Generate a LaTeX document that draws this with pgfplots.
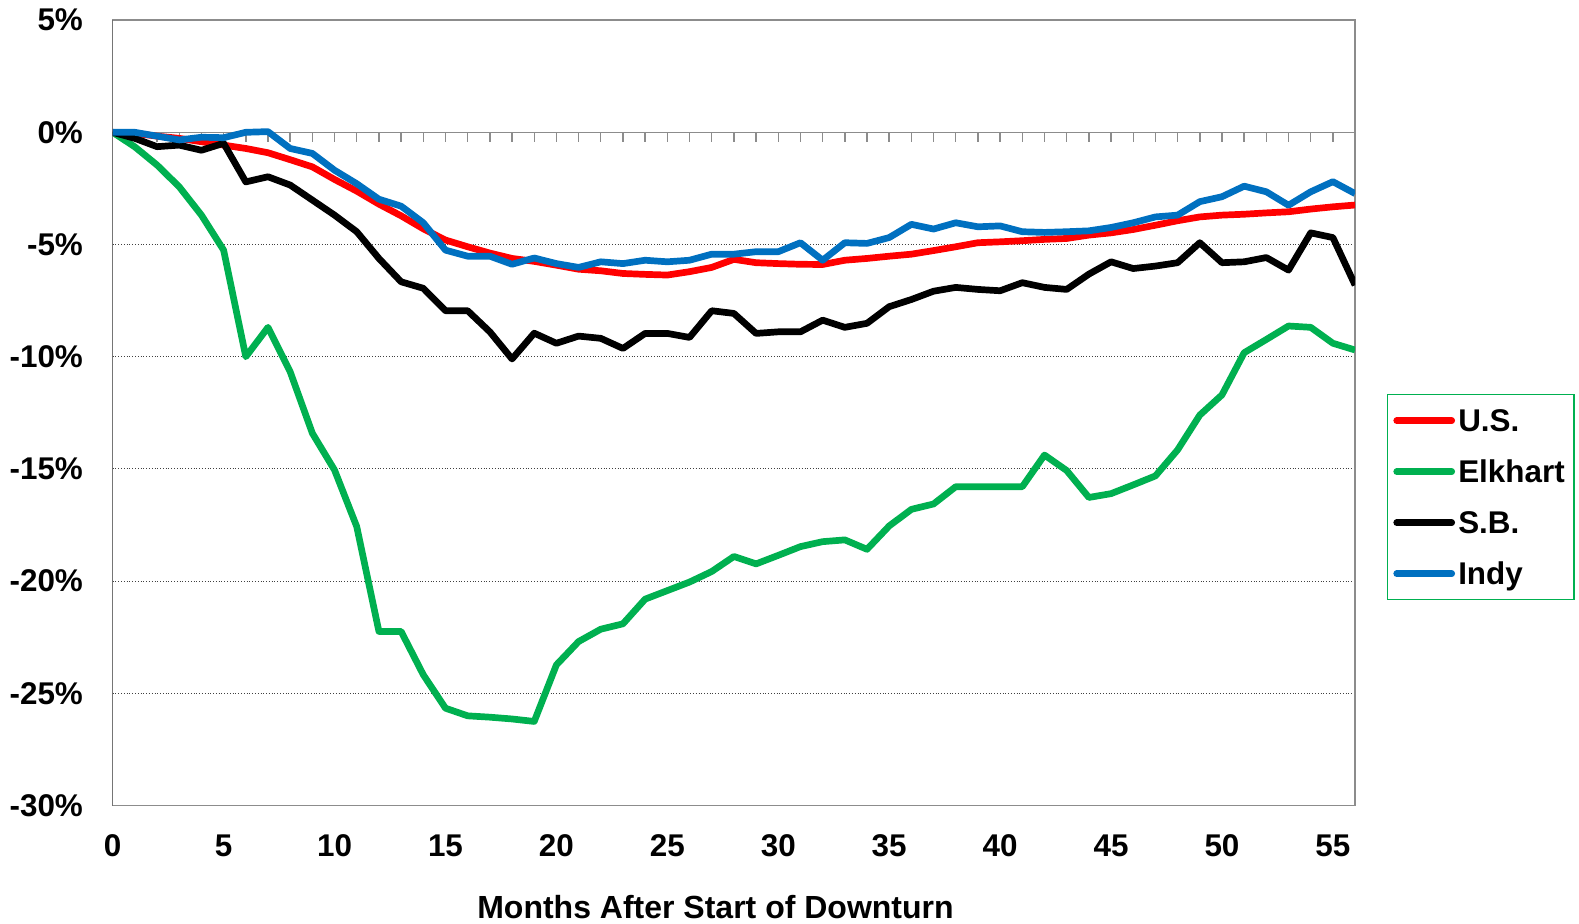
\documentclass[border=0pt]{standalone}
\usepackage{pgfplots}
\pgfplotsset{compat=1.18}
\usepackage{pgfplotstable}
\usepackage{fontspec}
\setmainfont{Liberation Sans}
\definecolor{usred}{HTML}{FF0000}
\definecolor{elkgreen}{HTML}{00B050}
\definecolor{indyblue}{HTML}{0070C0}
\newcommand\lf{\fontsize{15.7bp}{18.8bp}\selectfont\bfseries}
\newcommand\xlf{\fontsize{16bp}{19bp}\selectfont\bfseries}

\pgfplotstableread{
m us elk sb indy
0 0 0 0 0
1 -0.05 -0.65 -0.27 0
2 -0.17 -1.46 -0.64 -0.17
3 -0.27 -2.43 -0.57 -0.34
4 -0.42 -3.69 -0.8 -0.22
5 -0.57 -5.25 -0.49 -0.24
6 -0.72 -10.0 -2.21 0
7 -0.91 -8.69 -1.98 0.03
8 -1.22 -10.67 -2.35 -0.72
9 -1.54 -13.41 -3.02 -0.94
10 -2.1 -15.05 -3.69 -1.69
11 -2.62 -17.57 -4.43 -2.29
12 -3.2 -22.24 -5.62 -2.98
13 -3.72 -22.24 -6.66 -3.29
14 -4.3 -24.17 -6.95 -4.03
15 -4.8 -25.66 -7.95 -5.25
16 -5.1 -26.0 -7.95 -5.52
17 -5.38 -26.06 -8.89 -5.52
18 -5.62 -26.14 -10.1 -5.88
19 -5.75 -26.25 -8.95 -5.6
20 -5.92 -23.73 -9.4 -5.85
21 -6.1 -22.69 -9.08 -6.02
22 -6.17 -22.14 -9.18 -5.77
23 -6.29 -21.9 -9.63 -5.85
24 -6.33 -20.8 -8.96 -5.7
25 -6.36 -20.42 -8.96 -5.77
26 -6.21 -20.04 -9.14 -5.7
27 -6.02 -19.57 -7.95 -5.43
28 -5.66 -18.9 -8.07 -5.43
29 -5.81 -19.23 -8.96 -5.32
30 -5.85 -18.85 -8.89 -5.32
31 -5.88 -18.46 -8.89 -4.92
32 -5.89 -18.24 -8.37 -5.7
33 -5.7 -18.16 -8.69 -4.92
34 -5.62 -18.58 -8.51 -4.95
35 -5.52 -17.54 -7.77 -4.69
36 -5.43 -16.8 -7.45 -4.1
37 -5.27 -16.56 -7.08 -4.31
38 -5.1 -15.79 -6.91 -4.03
39 -4.92 -15.79 -7.0 -4.21
40 -4.88 -15.79 -7.06 -4.17
41 -4.83 -15.79 -6.7 -4.43
42 -4.77 -14.38 -6.91 -4.46
43 -4.73 -15.07 -7.0 -4.43
44 -4.58 -16.27 -6.32 -4.39
45 -4.48 -16.1 -5.77 -4.24
46 -4.33 -15.71 -6.07 -4.03
47 -4.14 -15.31 -5.96 -3.77
48 -3.94 -14.15 -5.81 -3.69
49 -3.77 -12.6 -4.92 -3.09
50 -3.69 -11.7 -5.81 -2.87
51 -3.65 -9.82 -5.77 -2.4
52 -3.59 -9.23 -5.58 -2.65
53 -3.54 -8.63 -6.14 -3.25
54 -3.42 -8.69 -4.48 -2.65
55 -3.32 -9.4 -4.69 -2.2
56 -3.24 -9.7 -6.81 -2.73
}\datatable

\begin{document}
\begin{tikzpicture}
\useasboundingbox (-56.35bp,-59.2bp) rectangle (733.15bp,402.8bp);
\begin{axis}[
  at={(0,0)}, anchor=south west,
  scale only axis,
  width=621.2bp, height=392.75bp,
  xmin=0, xmax=56, ymin=-30, ymax=5,
  axis lines=box,
  axis line style={draw=black!45, line width=0.7bp},
  major tick length=0pt,
  xtick={0,5,...,55},
  xticklabels={0,5,10,15,20,25,30,35,40,45,50,55},
  ytick={-30,-25,-20,-15,-10,-5,0,5},
  yticklabels={-30\%,-25\%,-20\%,-15\%,-10\%,-5\%,0\%,5\%},
  xticklabel style={font=\lf, anchor=north, inner sep=0pt, yshift=-14.2bp},
  yticklabel style={font=\lf, anchor=east, inner sep=0pt, xshift=-14.7bp},
  ymajorgrids=true,
  major grid style={black!75, densely dotted, line width=0.5bp},
  xlabel={Months After Start of Downturn},
  xlabel style={font=\xlf, at={(axis description cs:0.4852,0)}, anchor=base, yshift=-56.3bp, inner sep=0pt},
  legend cell align=left,
  legend image code/.code={\draw[#1, line cap=round] (0bp,0bp) -- (27.5bp,0bp);},
  legend style={at={(1.0254,0.524)}, anchor=north west, draw=elkgreen, line width=0.7bp,
    font=\lf, inner xsep=3bp, inner ysep=5.1bp, row sep=9.7bp,
    nodes={inner xsep=1.6bp, inner ysep=0bp, text height=13.5bp, text depth=2.3bp}},
  every axis plot/.append style={line width=3.35bp, line join=round},
]
\draw[black!45, line width=0.7bp] (axis cs:0,0) -- (axis cs:56,0);
\pgfplotsinvokeforeach{0,...,56}{\draw[black!45, line width=0.7bp] (axis cs:#1,0) -- ([yshift=-4.7bp]axis cs:#1,0);}
\pgfplotsinvokeforeach{-30,-25,-20,-15,-10,-5,0,5}{\draw[black!55, line width=0.7bp] (axis cs:0,#1) -- ([xshift=-4.7bp]axis cs:0,#1);}
\addplot[usred] table[x=m, y=us] {\datatable};
\addlegendentry{U.S.}
\addplot[elkgreen] table[x=m, y=elk] {\datatable};
\addlegendentry{Elkhart}
\addplot[black] table[x=m, y=sb] {\datatable};
\addlegendentry{S.B.}
\addplot[indyblue] table[x=m, y=indy] {\datatable};
\addlegendentry{Indy}
\draw[black!70, line width=0.8bp] (axis cs:0,-30) -- (axis cs:0,5);
\end{axis}
\end{tikzpicture}
\end{document}
